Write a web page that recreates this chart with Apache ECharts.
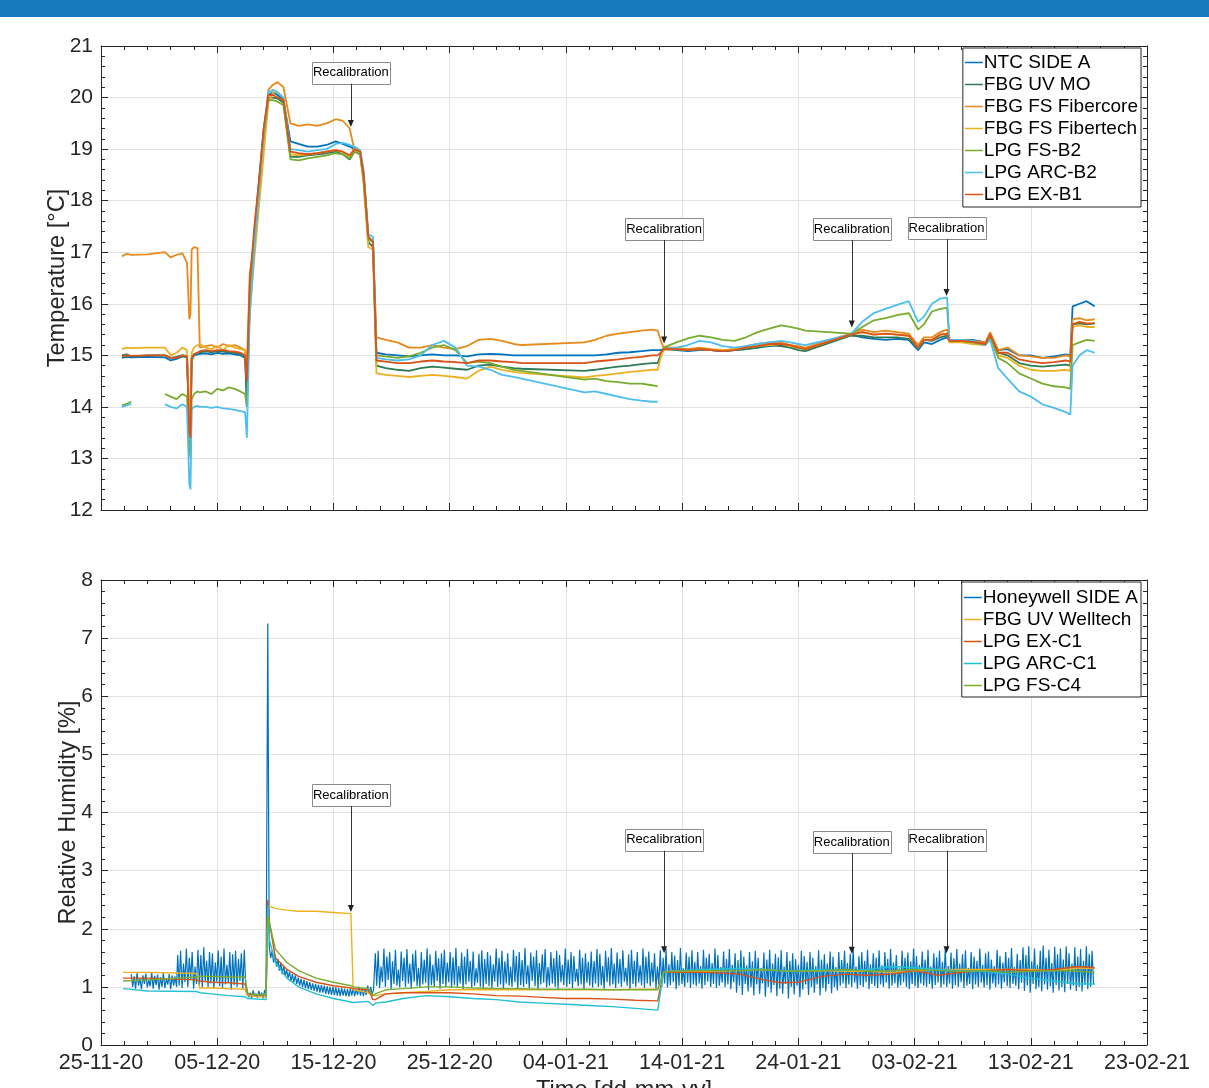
<!DOCTYPE html>
<html><head><meta charset="utf-8">
<script src="https://cdn.jsdelivr.net/npm/echarts@6/dist/echarts.min.js"></script>
<style>html,body{margin:0;padding:0;background:#fff}#c{width:1209px;height:1088px}</style>
</head><body><div id="c"></div>
<script>
// ---------- x axis (days since 25-11-20) ----------
const xTickLabels = ['25-11-20','05-12-20','15-12-20','25-12-20','04-01-21','14-01-21','24-01-21','03-02-21','13-02-21','23-02-21'];

// ---------- temperature panel ----------
const tDays = [1.8,2.2,2.6,4.0,5.5,6.0,6.5,7.0,7.4,7.6,7.7,7.8,8.0,8.3,8.5,9.0,9.5,10.0,10.5,11.0,11.5,12.0,12.4,12.55,12.8,13.2,13.6,14.0,14.4,14.8,15.2,15.7,16.3,17.0,17.8,18.6,19.4,20.2,20.8,21.4,21.8,22.3,22.6,23.0,23.4,23.7,24.5,25.5,26.5,27.5,28.5,29.5,30.5,31.5,32.5,33.5,34.5,35.5,36.2,41.6,42.5,43.5,44.5,45.5,46.5,47.4,47.9,48.15,48.4,49.5,50.5,51.5,52.5,53.5,54.5,55.5,56.5,57.5,58.5,59.3,60.0,60.6,64.5,65.5,66.5,67.5,68.5,69.5,70.3,70.8,71.5,72.2,72.8,73.0,74.0,75.0,76.1,76.5,77.2,78.0,79.0,80.0,81.0,82.0,83.0,83.4,83.6,84.2,84.8,85.5];

const ntcSideA = [14.95,14.97,14.96,14.97,14.96,14.9,14.93,14.98,14.96,13.7,
13.5,14.9,15.0,15.02,15.03,15.04,15.02,15.05,15.03,15.04,
15.02,15.0,14.95,14.0,16.0,17.3,18.3,19.3,20.05,20.1,
20.05,19.95,19.15,19.1,19.05,19.05,19.08,19.15,19.1,19.05,
19.0,18.95,18.5,17.3,17.2,15.05,15.02,15.0,14.98,15.0,
15.02,15.0,15.0,14.98,15.02,15.03,15.02,15.0,15.0,15.0,
15.0,15.02,15.05,15.06,15.08,15.1,15.1,15.1,15.12,15.1,
15.08,15.1,15.1,15.08,15.1,15.12,15.15,15.18,15.2,15.18,
15.15,15.12,15.4,15.35,15.32,15.3,15.32,15.3,15.1,15.25,
15.22,15.3,15.35,15.28,15.3,15.3,15.25,15.4,15.1,15.12,
15.0,15.0,14.95,14.98,15.02,15.0,15.95,16.0,16.05,15.95];

const fbgUvMo = [15.0,15.02,14.98,15.0,15.0,14.95,14.97,15.0,14.99,13.6,
13.45,14.95,15.02,15.05,15.06,15.08,15.06,15.08,15.07,15.06,
15.05,15.03,15.0,14.2,16.2,17.4,18.4,19.4,20.0,20.0,
19.98,19.9,18.85,18.85,18.88,18.9,18.92,18.95,18.9,18.8,
18.95,18.9,18.4,17.2,17.1,14.8,14.75,14.72,14.7,14.75,
14.78,14.76,14.74,14.72,14.8,14.82,14.78,14.75,14.74,14.7,
14.72,14.75,14.78,14.8,14.83,14.85,14.85,15.0,15.12,15.12,
15.1,15.12,15.1,15.08,15.1,15.12,15.15,15.2,15.18,15.15,
15.1,15.08,15.38,15.38,15.35,15.35,15.35,15.32,15.15,15.3,
15.28,15.35,15.38,15.28,15.28,15.26,15.22,15.38,15.05,15.0,
14.85,14.8,14.78,14.8,14.82,14.8,15.6,15.62,15.6,15.62];

const fbgFsFibercore = [16.92,16.97,16.95,16.96,17.0,16.9,16.95,16.98,16.8,15.7,
15.8,17.05,17.1,17.08,15.15,15.18,15.2,15.15,15.22,15.18,
15.2,15.15,15.1,14.8,16.6,17.2,18.1,19.2,20.15,20.25,
20.3,20.2,19.5,19.45,19.48,19.45,19.5,19.58,19.55,19.4,
18.98,18.95,18.5,17.3,17.2,15.35,15.3,15.25,15.15,15.15,
15.2,15.15,15.12,15.18,15.3,15.32,15.28,15.22,15.2,15.25,
15.3,15.38,15.42,15.45,15.48,15.5,15.48,15.3,15.15,15.15,
15.12,15.15,15.12,15.1,15.12,15.18,15.22,15.25,15.25,15.2,
15.18,15.15,15.42,15.5,15.45,15.48,15.45,15.42,15.2,15.35,
15.35,15.45,15.5,15.3,15.3,15.28,15.25,15.45,15.1,15.15,
15.0,14.98,14.95,14.95,15.0,14.98,15.7,15.72,15.68,15.7];

const fbgFsFibertech = [15.12,15.15,15.14,15.15,15.15,15.0,15.05,15.15,15.1,13.9,
13.7,15.05,15.15,15.2,15.22,15.15,15.12,15.18,15.1,15.2,
15.15,15.12,15.1,14.6,15.8,16.9,17.9,18.9,19.9,20.1,
20.1,20.0,18.9,18.88,18.9,18.92,18.95,18.98,18.95,18.85,
19.0,18.9,18.3,17.1,17.05,14.65,14.62,14.6,14.58,14.6,
14.62,14.6,14.58,14.55,14.7,14.78,14.72,14.68,14.66,14.57,
14.6,14.62,14.65,14.68,14.7,14.72,14.72,14.95,15.1,15.12,
15.1,15.12,15.1,15.1,15.12,15.15,15.18,15.2,15.22,15.18,
15.15,15.12,15.4,15.45,15.4,15.42,15.4,15.38,15.15,15.3,
15.3,15.4,15.42,15.25,15.25,15.22,15.2,15.38,15.0,14.95,
14.8,14.72,14.7,14.7,14.72,14.7,15.55,15.58,15.55,15.55];

const lpgFsB2 = [14.03,14.06,14.1,null,14.25,14.2,14.15,14.25,14.2,13.2,
13.0,14.15,14.25,14.3,14.28,14.3,14.25,14.35,14.32,14.38,
14.35,14.3,14.25,14.0,16.1,17.3,18.3,19.3,19.95,19.95,
19.92,19.85,18.8,18.78,18.82,18.85,18.88,18.92,18.9,18.82,
18.95,18.9,18.4,17.25,17.2,15.0,14.98,14.95,14.98,15.05,
15.15,15.2,15.1,14.85,14.88,14.85,14.78,14.72,14.7,14.53,
14.55,14.5,14.48,14.45,14.45,14.42,14.4,null,15.15,15.25,
15.33,15.38,15.35,15.3,15.28,15.35,15.45,15.52,15.58,15.55,
15.52,15.48,15.42,15.55,15.68,15.72,15.78,15.82,15.5,15.6,
15.85,15.9,15.92,15.3,15.28,15.25,15.2,15.35,14.95,14.85,
14.65,14.55,14.45,14.4,14.38,14.35,15.2,15.25,15.3,15.28];

const lpgArcB2 = [14.0,14.03,14.06,null,14.05,14.0,13.97,14.05,14.0,12.5,
12.4,13.95,14.0,14.02,14.0,14.0,13.98,14.0,13.97,13.96,
13.94,13.92,13.9,13.4,15.8,17.1,18.2,19.3,20.1,20.15,
20.1,20.0,19.0,18.98,18.95,18.98,19.0,19.1,19.12,19.08,
19.05,18.98,18.6,17.35,17.3,14.95,14.92,14.9,14.92,15.0,
15.2,15.28,15.15,14.8,14.78,14.72,14.62,14.58,14.55,14.28,
14.3,14.25,14.2,14.15,14.12,14.1,14.1,null,15.12,15.15,
15.2,15.28,15.25,15.18,15.15,15.18,15.22,15.25,15.28,15.25,
15.22,15.2,15.4,15.65,15.82,15.9,15.98,16.05,15.65,15.75,
16.0,16.1,16.12,15.3,15.3,15.28,15.2,15.3,14.75,14.55,
14.3,14.2,14.05,13.98,13.9,13.85,14.8,15.0,15.1,15.05];

const lpgExB1 = [14.98,15.0,14.99,15.0,15.0,14.95,14.95,15.0,14.97,13.5,
13.4,14.95,15.02,15.05,15.08,15.1,15.08,15.1,15.1,15.08,
15.07,15.05,15.0,14.5,16.4,17.5,18.4,19.4,20.05,20.05,
20.0,19.95,18.95,18.92,18.9,18.92,18.95,18.98,18.95,18.88,
19.0,18.95,18.5,17.3,17.2,14.9,14.88,14.85,14.85,14.88,
14.9,14.88,14.87,14.85,14.9,14.9,14.88,14.87,14.85,14.85,
14.88,14.9,14.92,14.95,14.97,15.0,15.0,15.05,15.12,15.12,
15.1,15.12,15.1,15.08,15.1,15.15,15.18,15.22,15.22,15.2,
15.15,15.12,15.4,15.45,15.4,15.42,15.4,15.38,15.15,15.3,
15.3,15.4,15.42,15.28,15.28,15.26,15.22,15.4,15.05,15.05,
14.92,14.88,14.85,14.87,14.9,14.88,15.6,15.65,15.62,15.62];

// ---------- humidity panel ----------
const hDays = [1.9,4.0,8.2,8.5,9.5,11.0,12.4,12.6,14.2,14.35,14.5,15.0,16.0,17.0,18.5,20.0,21.5,21.7,23.0,23.4,23.6,24.5,26.0,28.0,30.0,32.0,34.0,36.0,38.0,40.0,42.0,44.0,46.0,47.9,48.4,49.0,52.0,55.0,57.0,58.5,60.0,62.0,64.0,66.0,68.0,70.0,72.0,74.0,76.0,78.0,80.0,82.0,84.0,85.5];

const fbgUvWelltech = [1.25,1.25,1.23,0.98,0.98,0.97,0.96,0.85,0.82,2.4,
2.4,2.35,2.32,2.3,2.3,2.28,2.26,0.95,0.9,0.85,
0.85,0.88,0.9,0.92,0.95,0.95,0.95,0.95,0.95,0.95,
0.95,0.95,0.96,0.96,1.25,1.27,1.27,1.28,1.3,1.28,
1.27,1.28,1.27,1.27,1.25,1.27,1.3,1.3,1.3,1.3,
1.3,1.28,1.32,1.32];

const lpgExC1 = [1.15,1.15,1.12,1.1,1.08,1.07,1.05,0.88,0.85,2.5,
2.1,1.5,1.3,1.18,1.08,1.02,0.98,0.97,0.95,0.78,
0.78,0.88,0.9,0.9,0.9,0.88,0.85,0.84,0.82,0.8,
0.8,0.79,0.77,0.76,1.25,1.25,1.25,1.22,1.12,1.07,
1.08,1.18,1.22,1.2,1.22,1.28,1.2,1.25,1.28,1.3,
1.28,1.3,1.35,1.33];

const lpgArcC1 = [0.97,0.93,0.92,0.9,0.88,0.85,0.83,0.8,0.78,2.4,
1.8,1.42,1.15,1.0,0.88,0.8,0.74,0.73,0.75,0.68,
0.72,0.74,0.8,0.85,0.83,0.8,0.78,0.74,0.72,0.7,
0.68,0.66,0.63,0.6,1.25,1.27,1.3,1.32,1.3,1.28,
1.28,1.3,1.28,1.3,1.35,1.33,1.3,1.28,1.27,1.22,
1.15,1.1,1.05,1.05];

const lpgFsC4 = [1.1,1.12,1.17,1.18,1.18,1.17,1.17,0.88,0.86,2.2,
2.1,1.65,1.42,1.28,1.15,1.08,1.02,1.0,0.97,0.85,
0.88,0.95,0.97,1.0,1.0,0.98,0.97,0.97,0.96,0.96,
0.96,0.95,0.95,0.95,1.25,1.27,1.28,1.28,1.3,1.28,
1.27,1.28,1.3,1.27,1.28,1.3,1.28,1.27,1.28,1.25,
1.27,1.28,1.27,1.25];

// Honeywell SIDE A: readings in segments, each spread evenly between its start and end day
const hwSegStart = [2.6, 6.6, 12.6, 14.35, 23.6];
const hwSegEnd   = [6.5, 12.45, 14.2, 23.45, 85.4];
const hwSeg1 = [1.22,1.0,1.18,0.97,1.24,1.02,1.15,0.96,1.2,1.05,1.23,0.99,1.12,1.01,1.25,0.97,1.19,1.03,1.21,0.95,1.17,1.0,1.24,0.98,1.14,1.04,1.22,0.96,1.2,1.02,1.18,1.0];
const hwSeg2 = [1.55,1.02,1.62,0.98,1.4,1.08,1.66,1.0,1.5,1.12,1.6,0.97,1.35,1.05,1.64,1.03,1.55,0.99,1.68,1.1,1.45,1.0,1.6,1.06,
1.58,0.97,1.42,1.09,1.63,1.01,1.52,0.98,1.66,1.04,1.38,1.07,1.6,0.95,1.56,1.03,1.62,1.0,1.48,1.1,1.58,0.97,1.64,1.05];
const hwSeg3 = [0.92,0.82,0.9,0.8,0.94,0.84,0.88,0.81,0.93,0.83,0.9,0.8,0.95,0.85];
const hwSeg4 = [7.25,1.7,1.5,1.62,1.42,1.55,1.35,1.48,1.28,1.42,1.22,1.36,1.18,1.3,1.15,1.26,1.1,1.22,1.08,1.2,1.05,1.16,1.02,1.14,1.0,1.12,0.98,1.1,0.96,1.08,0.95,1.06,0.93,1.05,0.92,1.04,0.9,1.03,0.9,1.02,0.88,1.01,0.87,1.0,0.86,1.0,0.86,0.99,0.85,0.98,0.84,0.98,0.85,0.97,0.84,0.96,0.83,0.97,0.85,0.98,0.84,0.96,0.86,1.0,0.85,0.98,0.84,0.97,0.86,1.02,0.88,1.0,0.87,0.95];
const hwSeg5 = [
1.58,1.02,1.62,0.98,1.35,1.08,1.66,1.0,1.52,1.12,1.6,0.96,1.44,1.05,1.64,1.02,1.3,0.99,1.61,1.1,1.5,1.0,1.65,1.06,1.4,
0.97,1.57,1.09,1.63,1.01,1.33,0.98,1.6,1.04,1.47,1.07,1.66,0.95,1.56,1.03,1.38,1.0,1.62,1.1,1.49,0.97,1.58,1.05,1.64,1.0,
1.42,1.08,1.6,0.98,1.51,1.03,1.67,1.0,1.36,1.06,1.59,0.96,1.52,1.04,1.65,1.09,1.45,0.99,1.61,1.02,1.32,1.07,1.57,1.0,1.63,
0.97,1.48,1.05,1.6,1.01,1.54,0.98,1.39,1.09,1.66,1.0,1.5,1.04,1.62,0.95,1.44,1.06,1.58,1.02,1.35,1.0,1.64,1.08,1.53,0.97,
1.6,1.03,1.46,1.0,1.67,1.05,1.37,0.98,1.59,1.1,1.52,1.01,1.63,0.96,1.41,1.04,1.56,1.07,1.65,0.99,1.34,1.02,1.6,1.06,1.49,
1.0,1.62,0.97,1.55,1.08,1.38,1.03,1.66,1.0,1.47,1.05,1.6,0.98,1.53,1.09,1.31,1.01,1.64,1.04,1.5,0.96,1.58,1.07,1.43,1.02,
1.61,0.99,1.45,1.06,1.65,1.0,1.57,1.03,1.36,0.97,1.62,1.08,1.51,1.01,1.67,1.04,1.4,0.98,1.59,1.06,1.48,1.0,1.63,1.09,1.33,
1.02,1.56,0.96,1.64,1.05,1.45,1.0,1.6,1.07,1.37,1.03,1.66,0.98,1.52,1.06,1.61,1.01,1.42,1.08,1.58,0.97,1.35,1.04,1.63,1.0,
1.5,1.06,1.65,0.99,1.39,1.03,1.6,1.08,1.54,0.96,1.46,1.02,1.67,1.05,1.32,1.0,1.59,1.07,1.52,0.98,1.63,1.04,1.43,1.01,1.6,
1.06,1.36,0.97,1.64,1.03,1.5,1.09,1.57,1.0,1.41,1.05,1.66,0.98,1.55,1.02,1.34,1.07,1.61,1.0,1.48,1.04,1.65,0.96,1.38,1.08,
1.58,0.9,1.46,1.02,1.63,0.86,1.52,1.05,1.37,0.92,1.6,1.0,1.44,0.85,1.62,1.04,1.5,0.88,1.33,1.06,1.59,0.83,1.47,1.0,1.64,
0.9,1.4,1.03,1.57,0.84,1.51,0.97,1.63,0.88,1.35,1.05,1.6,0.8,1.45,1.0,1.58,0.87,1.48,1.02,1.38,0.82,1.62,0.95,1.53,1.04,
1.43,0.86,1.6,1.0,1.5,0.9,1.36,1.04,1.63,0.85,1.47,0.98,1.56,0.92,1.4,1.05,1.61,0.89,1.52,1.0,1.34,0.94,1.6,1.02,1.46,
1.06,1.62,0.98,1.41,1.04,1.57,1.0,1.66,1.07,1.35,0.97,1.53,1.03,1.6,1.0,1.45,1.08,1.64,0.96,1.39,1.05,1.58,1.01,1.5,0.98,
1.63,1.04,1.37,1.0,1.6,1.07,1.48,0.97,1.65,1.02,1.42,1.06,1.55,0.99,1.32,1.03,1.62,1.08,1.5,1.0,1.59,0.96,1.44,1.05,1.66,
1.01,1.53,0.98,1.38,1.06,1.61,1.02,1.47,1.0,1.64,1.05,1.35,0.97,1.58,1.03,1.51,1.07,1.62,0.99,1.43,1.04,1.67,1.0,1.36,1.06,
1.59,0.97,1.49,1.03,1.65,1.0,1.4,1.08,1.56,0.98,1.63,1.02,1.33,1.05,1.6,0.96,1.52,1.04,1.45,1.0,1.66,1.07,1.38,0.99,1.58,
1.03,1.61,0.95,1.47,1.06,1.36,1.0,1.64,1.04,1.53,0.97,1.42,1.08,1.6,1.01,1.5,0.98,1.67,1.05,1.34,1.02,1.57,0.96,1.46,1.07,
1.68,0.93,1.55,1.02,1.7,0.9,1.44,1.05,1.66,0.96,1.38,1.0,1.62,0.92,1.71,1.04,1.5,0.95,1.64,1.01,1.41,0.9,1.69,1.03,1.56,
0.94,1.66,1.0,1.47,0.91,1.7,1.05,1.58,0.95,1.4,1.02,1.68,0.93,1.52,1.0,1.65,0.92,1.45,1.04,1.7,0.96,1.57,1.0,1.62,1.05];
const hwSegs = [hwSeg1, hwSeg2, hwSeg3, hwSeg4, hwSeg5];

// ---------- recalibration annotations ----------
const recalLabel = 'Recalibration';
const recalDays = [21.5, 48.45, 64.6, 72.75];
const recalTempBox = [20.48, 17.45, 17.45, 17.47];
const recalTempTip = [19.43, 15.23, 15.54, 16.15];
const recalRhBox = [4.3, 3.53, 3.49, 3.53];
const recalRhTip = [2.29, 1.58, 1.57, 1.58];

const tempNames = ['NTC SIDE A','FBG UV MO','FBG FS Fibercore','FBG FS Fibertech','LPG FS-B2','LPG ARC-B2','LPG EX-B1'];
const tempSeries = [ntcSideA, fbgUvMo, fbgFsFibercore, fbgFsFibertech, lpgFsB2, lpgArcB2, lpgExB1];
const tempColors = ['#0072BD','#2E7A58','#E8891C','#EDB120','#77AC30','#4DBEEE','#D95319'];

const rhNames = ['Honeywell SIDE A','FBG UV Welltech','LPG EX-C1','LPG ARC-C1','LPG FS-C4'];
const rhColors = ['#0072BD','#EDB120','#D95319','#22C0D2','#77AC30'];

const FONT = "'Liberation Sans', Arial, Helvetica, sans-serif";
const AX = '#262626';

function pairs(days, vals) { return days.map((d, i) => [d, vals[i] == null ? '-' : vals[i]]); }
const hwData = [];
hwSegs.forEach((seg, s) => {
  const a = hwSegStart[s], b = hwSegEnd[s], n = seg.length;
  seg.forEach((v, i) => hwData.push([a + (b - a) * i / (n - 1), v]));
});

function xAx(gi, pos, showLabel) {
  return {
    type: 'value', gridIndex: gi, position: pos, min: 0, max: 90, interval: 10,
    axisLine: { show: true, onZero: false, lineStyle: { color: AX, width: 1 } },
    axisTick: { show: true, inside: true, length: 7, lineStyle: { color: AX } },
    minorTick: { show: true, splitNumber: 5, length: 4, lineStyle: { color: AX } },
    axisLabel: { show: showLabel, fontSize: 21.5, color: AX, fontFamily: FONT, margin: 7,
      formatter: v => xTickLabels[Math.round(v / 10)] },
    splitLine: { show: pos === 'bottom', lineStyle: { color: '#e3e3e3' } },
    name: showLabel ? 'Time [dd-mm-yy]' : '', nameLocation: 'middle', nameGap: 33, nameMoveOverlap: false,
    nameTextStyle: { fontSize: 23.6, color: AX, fontFamily: FONT, verticalAlign: 'top' }
  };
}
function yAx(gi, pos, min, max, name, gap) {
  const main = pos === 'left';
  return {
    type: 'value', gridIndex: gi, position: pos, min, max, interval: 1,
    axisLine: { show: true, onZero: false, lineStyle: { color: AX, width: 1 } },
    axisTick: { show: true, inside: true, length: 7, lineStyle: { color: AX } },
    minorTick: { show: true, splitNumber: 5, length: 4, lineStyle: { color: AX } },
    axisLabel: { show: main, fontSize: 21, color: AX, fontFamily: FONT, margin: 8 },
    splitLine: { show: main, lineStyle: { color: '#e3e3e3' } },
    name: main ? name : '', nameLocation: 'middle', nameGap: gap, nameMoveOverlap: false,
    nameTextStyle: { fontSize: 23.6, color: AX, fontFamily: FONT }
  };
}

const series = [];
tempNames.forEach((n, k) => series.push({
  name: n, type: 'line', xAxisIndex: 0, yAxisIndex: 0, data: pairs(tDays, tempSeries[k]),
  symbol: 'none', lineStyle: { width: 1.8, color: tempColors[k] }, itemStyle: { color: tempColors[k] },
  connectNulls: false, animation: false
}));
const rhData = [hwData, pairs(hDays, fbgUvWelltech), pairs(hDays, lpgExC1), pairs(hDays, lpgArcC1), pairs(hDays, lpgFsC4)];
rhNames.forEach((n, k) => series.push({
  name: n, type: 'line', xAxisIndex: 2, yAxisIndex: 2, data: rhData[k],
  symbol: 'none', lineStyle: { width: k === 0 ? 1.2 : 1.4, color: rhColors[k] }, itemStyle: { color: rhColors[k] },
  connectNulls: false, animation: false
}));

function legend(names, top, pad) {
  return {
    data: names, orient: 'vertical', right: 68, top: top, itemWidth: 18, itemHeight: 1.5, itemGap: 3,
    icon: 'rect',
    padding: pad, borderColor: AX, borderWidth: 1, backgroundColor: '#fff', borderRadius: 0,
    textStyle: { fontSize: 19, color: '#000', fontFamily: FONT, lineHeight: 18, padding: [0, 0, 0, -4] },
    selectedMode: false
  };
}

const chart = echarts.init(document.getElementById('c'), null, { renderer: 'canvas' });
chart.setOption({
  animation: false,
  backgroundColor: '#fff',
  grid: [
    { left: 101, right: 62, top: 46, height: 464, containLabel: false, outerBoundsMode: 'none' },
    { left: 101, right: 62, top: 580, height: 465, containLabel: false, outerBoundsMode: 'none' }
  ],
  xAxis: [xAx(0, 'bottom', false), xAx(0, 'top', false), xAx(1, 'bottom', true), xAx(1, 'top', false)],
  yAxis: [yAx(0, 'left', 12, 21, 'Temperature [°C]', 32), yAx(0, 'right', 12, 21, '', 0),
          yAx(1, 'left', 0, 8, 'Relative Humidity [%]', 21), yAx(1, 'right', 0, 8, '', 0)],
  legend: [legend(tempNames, 48, [5, 3, 3, 2]), legend(rhNames, 582, [6, 3, 2, 2])],
  series: series
});

// annotations
const g = [{ type: 'rect', shape: { x: 0, y: 0, width: 1209, height: 17 }, style: { fill: '#1779bd' }, z: 100 }];
function addNote(xi, yi, day, boxV, tipV) {
  const b = chart.convertToPixel({ xAxisIndex: xi, yAxisIndex: yi }, [day, boxV]);
  const t = chart.convertToPixel({ xAxisIndex: xi, yAxisIndex: yi }, [day, tipV]);
  const w = 78, h = 22;
  g.push({ type: 'rect', shape: { x: Math.round(b[0] - w / 2) + 0.5, y: Math.round(b[1] - h / 2) + 0.5, width: w, height: h },
    style: { fill: '#fff', stroke: '#8a8a8a', lineWidth: 1 }, z: 100 });
  g.push({ type: 'text', x: b[0], y: b[1], style: { text: recalLabel, fontSize: 13, fontFamily: FONT, fill: '#000', align: 'center', verticalAlign: 'middle' }, z: 101 });
  g.push({ type: 'line', shape: { x1: Math.round(t[0]) + 0.5, y1: b[1] + h / 2, x2: Math.round(t[0]) + 0.5, y2: t[1] - 5 },
    style: { stroke: '#333', lineWidth: 1 }, z: 100 });
  g.push({ type: 'polygon', shape: { points: [[t[0] - 3, t[1] - 7], [t[0] + 3, t[1] - 7], [t[0], t[1]]] },
    style: { fill: '#222' }, z: 100 });
}
recalDays.forEach((d, i) => {
  addNote(0, 0, d, recalTempBox[i], recalTempTip[i]);
  addNote(2, 2, d, recalRhBox[i], recalRhTip[i]);
});
chart.setOption({ graphic: g });
</script></body></html>
